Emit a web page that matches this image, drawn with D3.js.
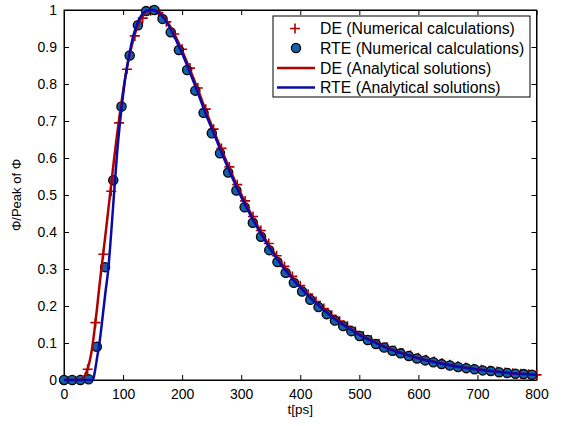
<!DOCTYPE html>
<html lang="en">
<head>
  <meta charset="UTF-8">
  <title>Peak normalised fluence</title>
  <script src="https://cdn.jsdelivr.net/npm/d3@7"></script>
  <style>
    body { margin: 0; background: #fff; }
    text { font-family: "Liberation Sans", Arial, Helvetica, sans-serif; }
  </style>
</head>
<body>
  <svg width="563" height="426"></svg>
  <script>
    // RTE numerical calculations (circles)
    var tRteNum = [0, 13.9, 27.8, 41.7, 55.6, 69.5, 83.4, 97.3, 111.2, 125.1, 139, 152.9, 166.8, 180.7, 194.6, 208.5,
      222.4, 236.3, 250.2, 264.1, 278, 291.9, 305.8, 319.7, 333.6, 347.5, 361.4, 375.3, 389.2, 403.1, 417, 430.9,
      444.8, 458.7, 472.6, 486.5, 500.4, 514.3, 528.2, 542.1, 556, 569.9, 583.8, 597.7, 611.6, 625.5, 639.4, 653.3,
      667.2, 681.1, 695, 708.9, 722.8, 736.7, 750.6, 764.5, 778.4, 792.3];
    var rteNum = [0, 0, 0, 0.002, 0.09, 0.305, 0.54, 0.739, 0.877, 0.959, 0.997, 1.0, 0.976, 0.94, 0.892, 0.838,
      0.782, 0.722, 0.667, 0.613, 0.561, 0.512, 0.467, 0.425, 0.387, 0.351, 0.319, 0.290, 0.263, 0.239, 0.217, 0.197,
      0.178, 0.161, 0.146, 0.132, 0.119, 0.108, 0.097, 0.088, 0.079, 0.072, 0.065, 0.058, 0.053, 0.048, 0.043, 0.039,
      0.035, 0.032, 0.029, 0.026, 0.024, 0.021, 0.019, 0.017, 0.016, 0.014];

    // DE numerical calculations (crosses)
    var tDeNum = [0, 13.3, 26.7, 40, 53.3, 66.7, 80, 93.3, 106.7, 120, 133.3, 146.7, 160, 173.3, 186.7, 200,
      213.3, 226.7, 240, 253.3, 266.7, 280, 293.3, 306.7, 320, 333.3, 346.7, 360, 373.3, 386.7, 400, 413.3,
      426.7, 440, 453.3, 466.7, 480, 493.3, 506.7, 520, 533.3, 546.7, 560, 573.3, 586.7, 600, 613.3, 626.7,
      640, 653.3, 666.7, 680, 693.3, 706.7, 720, 733.3, 746.7, 760, 773.3, 786.7, 800];
    var deNum = [0, 0, 0.001, 0.029, 0.155, 0.34, 0.51, 0.695, 0.84, 0.93, 0.978, 0.998, 0.993, 0.968, 0.935, 0.894,
      0.843, 0.789, 0.732, 0.678, 0.626, 0.576, 0.528, 0.484, 0.442, 0.404, 0.369, 0.336, 0.307, 0.280, 0.255, 0.232,
      0.212, 0.193, 0.175, 0.159, 0.145, 0.131, 0.119, 0.108, 0.098, 0.089, 0.080, 0.073, 0.067, 0.060, 0.055, 0.050,
      0.045, 0.041, 0.037, 0.0335, 0.0307, 0.0278, 0.0253, 0.023, 0.0204, 0.0185, 0.0168, 0.0157, 0.0138];

    // DE analytical solution (red line)
    var tDeAna = [0, 10, 20, 28, 32, 36, 40, 44, 48, 52, 56, 60, 64,
      70, 75, 80, 85, 90, 95, 100, 105, 110, 115, 120, 125, 130, 135, 140, 145, 150, 155, 160,
      170, 180, 190, 200, 210, 220, 230, 240, 250, 260, 270, 280, 290, 300, 310, 320, 330, 340, 350, 360, 370, 380, 390, 400,
      420, 440, 460, 480, 500, 520, 540, 560, 580, 600, 620, 640, 660, 680, 700, 720, 740, 760, 780, 800];
    var deAna = [0, 0, 0, 0, 0.005, 0.015, 0.03, 0.055, 0.09, 0.14, 0.195, 0.255, 0.31,
      0.39, 0.46, 0.53, 0.60, 0.665, 0.725, 0.78, 0.83, 0.87, 0.905, 0.935, 0.958, 0.975, 0.988, 0.996, 0.999, 1.0, 0.998, 0.996,
      0.979, 0.955, 0.925, 0.890, 0.852, 0.812, 0.771, 0.728, 0.688, 0.648, 0.610, 0.572, 0.536, 0.502, 0.470, 0.439,
      0.411, 0.383, 0.357, 0.334, 0.311, 0.291, 0.271, 0.253,
      0.220, 0.191, 0.166, 0.1436, 0.124, 0.1075, 0.0926, 0.0796, 0.0694, 0.0594, 0.0518, 0.0446, 0.0385, 0.0333,
      0.029, 0.0251, 0.0214, 0.0184, 0.0162, 0.014];

    // RTE analytical solution (blue line)
    var tRteAna = [0, 10, 20, 30, 40, 48, 50, 53, 56, 60,
      65, 70, 75, 80, 85, 90, 95, 100, 105, 110, 115, 120, 125, 130, 135, 140, 145, 150, 155, 160,
      170, 180, 190, 200, 210, 220, 230, 240, 250, 260, 270, 280, 290, 300, 310, 320, 330, 340, 350, 360, 370, 380, 390, 400,
      420, 440, 460, 480, 500, 520, 540, 560, 580, 600, 620, 640, 660, 680, 700, 720, 740, 760, 780, 800];
    var rteAna = [0, 0, 0, 0, 0, 0, 0.005, 0.03, 0.06, 0.10,
      0.165, 0.235, 0.30, 0.40, 0.51, 0.615, 0.70, 0.77, 0.83, 0.875, 0.915, 0.945, 0.967, 0.983, 0.993, 0.998, 1.0, 1.0, 0.998, 0.993,
      0.976, 0.950, 0.918, 0.883, 0.844, 0.804, 0.762, 0.719, 0.680, 0.641, 0.602, 0.565, 0.529, 0.495, 0.463, 0.433,
      0.405, 0.378, 0.352, 0.329, 0.307, 0.287, 0.267, 0.250,
      0.217, 0.189, 0.163, 0.142, 0.122, 0.106, 0.091, 0.0785, 0.0684, 0.0585, 0.051, 0.0439, 0.0379, 0.0329,
      0.0286, 0.0248, 0.021, 0.0181, 0.0162, 0.0138];

    var xTicks = [0, 100, 200, 300, 400, 500, 600, 700, 800];
    var yTicks = [0, 0.1, 0.2, 0.3, 0.4, 0.5, 0.6, 0.7, 0.8, 0.9, 1];
    var legendLabels = ['DE (Numerical calculations)', 'RTE (Numerical calculations)',
      'DE (Analytical solutions)', 'RTE (Analytical solutions)'];

    var red = '#b00000';
    var blue = '#0a0aa8';
    var dotFill = '#1560a8';

    var margin = { top: 10, right: 26.5, bottom: 46, left: 64 };
    var svg = d3.select('svg');
    var width = +svg.attr('width') - margin.left - margin.right;
    var height = +svg.attr('height') - margin.top - margin.bottom;

    var g = svg.append('g')
      .attr('transform', 'translate(' + margin.left + ',' + margin.top + ')');

    var x = d3.scaleLinear().domain([0, 800]).range([0, width]);
    var y = d3.scaleLinear().domain([0, 1]).range([height, 0]);

    function zip(ts, vs) {
      return ts.map(function(t, i) { return { t: t, v: vs[i] }; });
    }

    // axes, ticks pointing inwards like matlab
    var fmtY = function(d) { return d3.format('~g')(d); };
    g.append('g')
      .attr('transform', 'translate(0,' + height + ')')
      .call(d3.axisBottom(x).tickValues(xTicks).tickSizeInner(-5).tickSizeOuter(0).tickPadding(9).tickFormat(d3.format('d')));
    g.append('g')
      .call(d3.axisTop(x).tickValues(xTicks).tickSizeInner(-5).tickSizeOuter(0).tickFormat(''));
    g.append('g')
      .call(d3.axisLeft(y).tickValues(yTicks).tickSizeInner(-5).tickSizeOuter(0).tickPadding(7).tickFormat(fmtY));
    g.append('g')
      .attr('transform', 'translate(' + width + ',0)')
      .call(d3.axisRight(y).tickValues(yTicks).tickSizeInner(-5).tickSizeOuter(0).tickFormat(''));

    g.selectAll('.tick text').attr('font-size', 14).attr('fill', '#000')
      .style('font-family', '"Liberation Sans", Arial, sans-serif');
    g.selectAll('.domain').attr('stroke', '#000');
    g.selectAll('.tick line').attr('stroke', '#000');

    g.append('rect')
      .attr('width', width).attr('height', height)
      .attr('fill', 'none').attr('stroke', '#000').attr('stroke-width', 1);

    // DE numerical crosses
    var crossPath = 'M-5,0H5M0,-5V5';
    g.append('g').selectAll('path')
      .data(zip(tDeNum, deNum))
      .enter().append('path')
      .attr('transform', function(d) { return 'translate(' + x(d.t) + ',' + y(d.v) + ')'; })
      .attr('d', crossPath)
      .attr('stroke', red).attr('stroke-width', 1.6).attr('fill', 'none');

    // RTE numerical circles
    g.append('g').selectAll('circle')
      .data(zip(tRteNum, rteNum))
      .enter().append('circle')
      .attr('cx', function(d) { return x(d.t); })
      .attr('cy', function(d) { return y(d.v); })
      .attr('r', 4.6)
      .attr('fill', dotFill).attr('stroke', '#000').attr('stroke-width', 1.3);

    var line = d3.line()
      .x(function(d) { return x(d.t); })
      .y(function(d) { return y(d.v); })
      .curve(d3.curveMonotoneX);

    g.append('path')
      .datum(zip(tDeAna, deAna))
      .attr('fill', 'none').attr('stroke', red).attr('stroke-width', 2.5)
      .attr('stroke-linejoin', 'round')
      .attr('d', line);

    g.append('path')
      .datum(zip(tRteAna, rteAna))
      .attr('fill', 'none').attr('stroke', blue).attr('stroke-width', 2.5)
      .attr('stroke-linejoin', 'round')
      .attr('d', line);

    // legend
    var leg = svg.append('g').attr('transform', 'translate(273,16)');
    leg.append('rect')
      .attr('width', 257).attr('height', 81)
      .attr('fill', '#fff').attr('stroke', '#000').attr('stroke-width', 1);

    var rowY = [12.5, 32, 52, 71.5];
    leg.append('path')
      .attr('transform', 'translate(22,' + rowY[0] + ')')
      .attr('d', crossPath).attr('stroke', red).attr('stroke-width', 1.6);
    leg.append('circle')
      .attr('cx', 23).attr('cy', rowY[1]).attr('r', 4.6)
      .attr('fill', dotFill).attr('stroke', '#000').attr('stroke-width', 1.3);
    leg.append('line')
      .attr('x1', 4).attr('x2', 42).attr('y1', rowY[2]).attr('y2', rowY[2])
      .attr('stroke', red).attr('stroke-width', 2.5);
    leg.append('line')
      .attr('x1', 4).attr('x2', 42).attr('y1', rowY[3]).attr('y2', rowY[3])
      .attr('stroke', blue).attr('stroke-width', 2.5);

    leg.selectAll('text.lbl')
      .data(legendLabels)
      .enter().append('text')
      .attr('class', 'lbl')
      .attr('x', 47)
      .attr('y', function(d, i) { return rowY[i]; })
      .attr('dy', '0.36em')
      .attr('font-size', 15.8)
      .text(function(d) { return d; });

    // axis titles
    svg.append('text')
      .attr('x', margin.left + width / 2).attr('y', 414)
      .attr('text-anchor', 'middle').attr('font-size', 13.5)
      .text('t[ps]');
    svg.append('text')
      .attr('transform', 'translate(21,' + (margin.top + height / 2) + ') rotate(-90)')
      .attr('text-anchor', 'middle').attr('font-size', 13)
      .text('Φ/Peak of Φ');
  </script>
</body>
</html>
